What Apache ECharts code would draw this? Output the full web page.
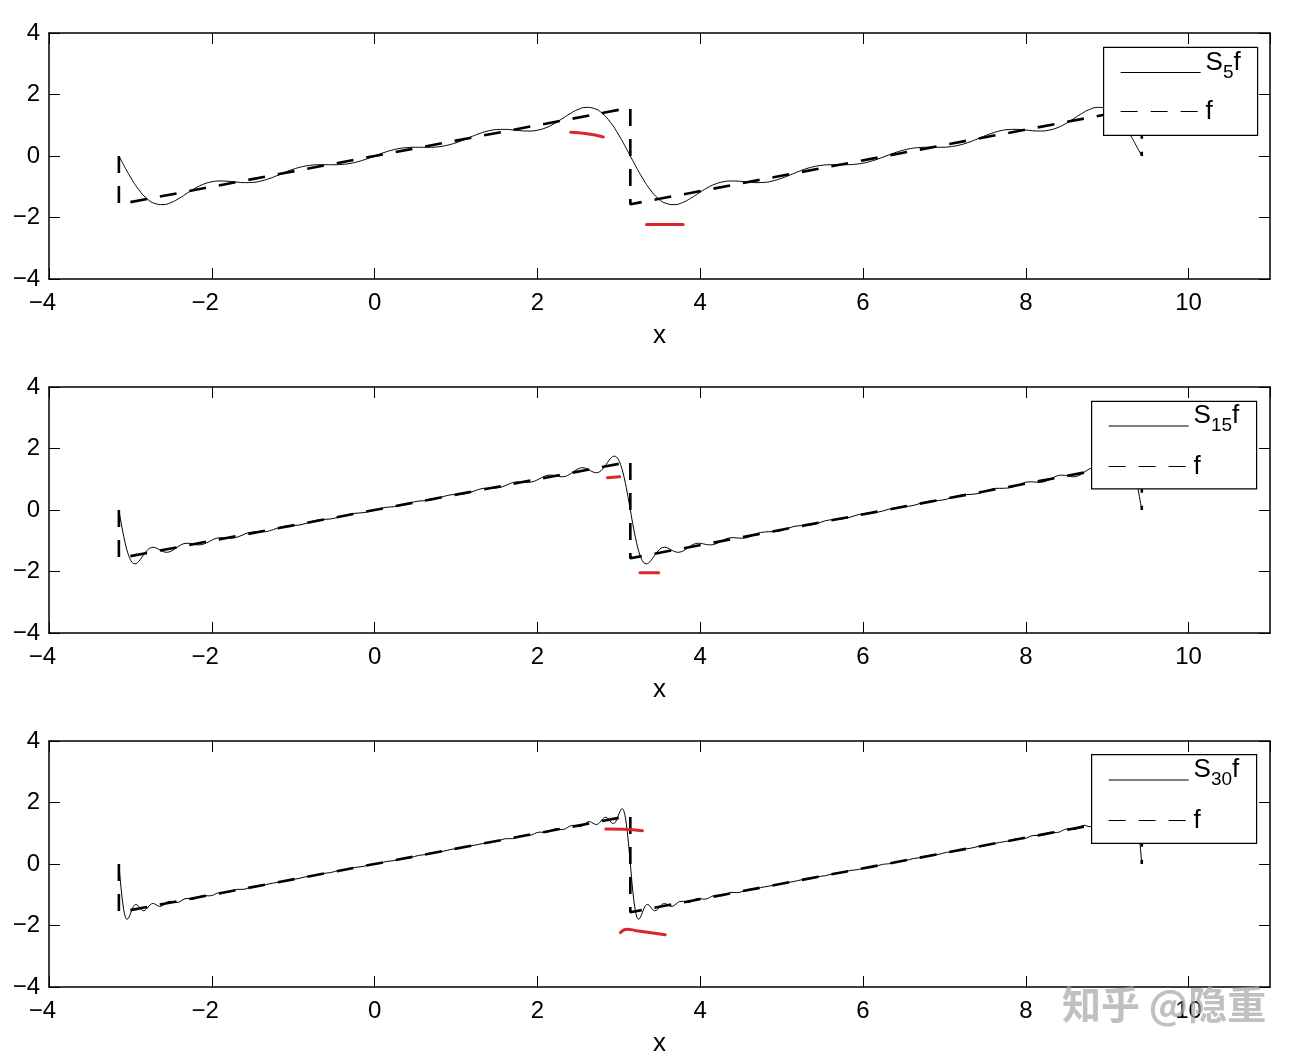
<!DOCTYPE html>
<html>
<head>
<meta charset="utf-8">
<script src="https://cdn.jsdelivr.net/npm/echarts@6/dist/echarts.min.js"></script>
<style>
html,body{margin:0;padding:0;background:#fff;}
#chart{width:1300px;height:1062px;}
</style>
</head>
<body>
<div id="chart"></div>
<script>
// ---------- data ----------
const PERIOD = 6.2832;   // the curves repeat with period 2*pi in the picture

// x positions for S5f over one period [-pi, pi]
const xS5 = [-3.1416,-3.1,-3.0,-2.9,-2.8,-2.7,-2.6,-2.5,-2.4,-2.3,-2.2,-2.1,-2.0,-1.9,-1.8,-1.7,-1.6,-1.5,-1.4,-1.3,-1.2,-1.1,-1.0,-0.9,-0.8,-0.7,-0.6,-0.5,-0.4,-0.3,-0.2,-0.1,0,
  0.1,0.2,0.3,0.4,0.5,0.6,0.7,0.8,0.9,1.0,1.1,1.2,1.3,1.4,1.5,1.6,1.7,1.8,1.9,2.0,2.1,2.2,2.3,2.4,2.5,2.6,2.7,2.8,2.9,3.0,3.1,3.1416];
const s5 = [0,-0.207,-0.682,-1.085,-1.379,-1.543,-1.581,-1.513,-1.375,-1.205,-1.042,-0.915,-0.839,-0.812,-0.822,-0.847,-0.866,-0.859,-0.817,-0.740,-0.640,-0.531,-0.431,-0.354,-0.306,-0.285,-0.283,-0.284,-0.273,-0.241,-0.181,-0.098,0,
  0.098,0.181,0.241,0.273,0.284,0.283,0.285,0.306,0.354,0.431,0.531,0.640,0.740,0.817,0.859,0.866,0.847,0.822,0.812,0.839,0.915,1.042,1.205,1.375,1.513,1.581,1.543,1.379,1.085,0.682,0.207,0];

// x positions for S15f and S30f over one period [-pi, pi] (denser near the jumps)
const xGrid = [-3.142,-3.122,-3.102,-3.082,-3.062,-3.042,-3.022,-3.002,-2.982,-2.962,
  -2.942,-2.922,-2.902,-2.882,-2.862,-2.842,-2.822,-2.802,-2.782,-2.762,
  -2.742,-2.722,-2.702,-2.682,-2.662,-2.642,-2.622,-2.602,-2.582,-2.562,
  -2.542,
  -2.492,-2.442,-2.392,-2.342,-2.292,-2.242,-2.192,-2.142,-2.092,-2.042,
  -1.992,-1.942,-1.892,-1.842,-1.792,-1.742,-1.692,-1.642,-1.592,-1.542,
  -1.442,-1.342,-1.242,-1.142,-1.042,-0.942,-0.842,-0.742,-0.642,-0.542,
  -0.442,-0.342,-0.242,-0.142,-0.042,0,
  0.042,0.142,0.242,0.342,0.442,0.542,0.642,0.742,0.842,0.942,1.042,1.142,1.242,1.342,1.442,
  1.542,1.592,1.642,1.692,1.742,1.792,1.842,1.892,1.942,1.992,2.042,2.092,2.142,2.192,2.242,2.292,2.342,2.392,2.442,2.492,
  2.542,2.562,2.582,2.602,2.622,2.642,2.662,2.682,2.702,2.722,2.742,2.762,2.782,2.802,2.822,2.842,2.862,2.882,2.902,2.922,2.942,2.962,2.982,3.002,3.022,3.042,3.062,3.082,3.102,3.122,3.142];

const s15 = [0,-0.298,-0.587,-0.856,-1.099,-1.307,-1.478,-1.606,-1.694,-1.741,
  -1.752,-1.731,-1.686,-1.622,-1.549,-1.472,-1.398,-1.332,-1.279,-1.241,
  -1.219,-1.212,-1.219,-1.238,-1.263,-1.293,-1.322,-1.347,-1.365,-1.375,
  -1.374,
  -1.329,-1.242,-1.152,-1.093,-1.081,-1.103,-1.130,-1.133,-1.100,-1.038,
  -0.969,-0.919,-0.900,-0.905,-0.917,-0.914,-0.886,-0.836,-0.779,-0.733,
  -0.706,-0.704,-0.635,-0.542,-0.507,-0.497,-0.435,-0.348,-0.307,-0.292,
  -0.234,-0.152,-0.108,-0.088,-0.034,0,
  0.034,0.088,0.108,0.152,0.234,0.292,0.307,0.348,0.435,0.497,0.507,0.542,0.635,0.704,0.706,
  0.733,0.779,0.836,0.886,0.914,0.917,0.905,0.900,0.919,0.969,1.038,1.100,1.133,1.130,1.103,1.081,1.093,1.152,1.242,1.329,
  1.374,1.375,1.365,1.347,1.322,1.293,1.263,1.238,1.219,1.212,1.219,1.241,1.279,1.332,1.398,1.472,1.549,1.622,1.686,1.731,1.752,1.741,1.694,1.606,1.478,1.307,1.099,0.856,0.587,0.298,0];

const s30 = [0,-0.588,-1.104,-1.492,-1.723,-1.801,-1.754,-1.634,-1.494,-1.380,
  -1.321,-1.322,-1.369,-1.435,-1.493,-1.521,-1.509,-1.463,-1.400,-1.339,
  -1.298,-1.284,-1.298,-1.328,-1.360,-1.378,-1.373,-1.347,-1.306,-1.261,
  -1.226,
  -1.215,-1.257,-1.225,-1.141,-1.118,-1.145,-1.123,-1.052,-1.020,-1.036,
  -1.021,-0.959,-0.922,-0.930,-0.919,-0.865,-0.824,-0.825,-0.817,-0.769,
  -0.721,-0.673,-0.618,-0.575,-0.515,-0.477,-0.413,-0.379,-0.312,-0.280,
  -0.211,-0.181,-0.111,-0.081,-0.011,0,
  0.011,0.081,0.111,0.181,0.211,0.280,0.312,0.379,0.413,0.477,0.515,0.575,0.618,0.673,0.721,
  0.769,0.817,0.825,0.824,0.865,0.919,0.930,0.922,0.959,1.021,1.036,1.020,1.052,1.123,1.145,1.118,1.141,1.225,1.257,1.215,
  1.226,1.261,1.306,1.347,1.373,1.378,1.360,1.328,1.298,1.284,1.298,1.339,1.400,1.463,1.509,1.521,1.493,1.435,1.369,1.322,1.321,1.380,1.494,1.634,1.754,1.801,1.723,1.492,1.104,0.588,0];

// the target function f (dashed), including its vertical jumps
const fX = [-3.1416,-3.1416,3.1416,3.1416,9.4248,9.4248];
const fY = [0,-1.5708,1.5708,-1.5708,1.5708,0];

// red hand-drawn marks [x, y] in data units, per panel
const redTopA = [[2.41,0.77],[2.61,0.72],[2.81,0.62]];
const redTopB = [[3.34,-2.23],[3.79,-2.23]];
const redMidA = [[2.86,1.05],[3.01,1.08]];
const redMidB = [[3.26,-2.04],[3.49,-2.04]];
const redBotA = [[2.84,1.14],[3.06,1.13],[3.29,1.08]];
const redBotB = [[3.02,-2.23],[3.10,-2.12],[3.22,-2.17],[3.57,-2.30]];

// axes and labels
const xMin = -4, xMax = 11, xStep = 2;
const yMin = -4, yMax = 4, yStep = 2;
const seriesNames = ['S5f','S15f','S30f'];
const subscripts = ['5','15','30'];
const watermark = '知乎 @隐重';

// ---------- chart ----------
const FONT = '"Liberation Sans", Arial, Helvetica, sans-serif';
const gridTops = [33, 387, 741];
// legend layout per panel: frame box and the two entries
const legendBoxes = [[1103, 46.7, 154, 88], [1091, 400.7, 165, 87.6], [1091, 754, 165, 88.7]];
const legendIconLeft = [1120, 1108, 1108];
const legendRow1Top = [49.5, 403, 757];
const legendRow2Top = [98.5, 453.5, 807.5];

function pairs(xs, ys) {
  const out = [];
  const n = Math.min(xs.length, ys.length);
  for (let i = 0; i < n; i++) out.push([xs[i], ys[i]]);
  for (let i = 1; i < n; i++) out.push([xs[i] + PERIOD, ys[i]]);
  return out;
}
function fPairs() { return fX.map((x, i) => [x, fY[i]]); }
const minus = v => String(v).replace('-', '\u2212');

const grids = [], xAxes = [], yAxes = [], series = [], legends = [], graphics = [];
const curves = [pairs(xS5, s5), pairs(xGrid, s15), pairs(xGrid, s30)];
const reds = [[redTopA, redTopB], [redMidA, redMidB], [redBotA, redBotB]];

const axisLine = {show: true, onZero: false, lineStyle: {color: '#000', width: 1.5}};
const axisTick = {show: true, inside: true, length: 11, lineStyle: {color: '#000', width: 1}};

const legendText = {
  color: '#000', fontFamily: FONT, fontSize: 26,
  rich: {
    a: {color: '#000', fontFamily: FONT, fontSize: 26, lineHeight: 46, verticalAlign: 'top'},
    b: {color: '#000', fontFamily: FONT, fontSize: 19, lineHeight: 46, verticalAlign: 'middle'},
    c: {color: '#000', fontFamily: FONT, fontSize: 26, lineHeight: 28}
  }
};

for (let g = 0; g < 3; g++) {
  grids.push({left: 49, top: gridTops[g], width: 1221, height: 246, containLabel: false, outerBoundsMode: 'none'});
  xAxes.push({
    type: 'value', gridIndex: g, position: 'bottom', min: xMin, max: xMax, interval: xStep,
    axisLine, axisTick, splitLine: {show: false},
    axisLabel: {show: true, color: '#000', fontSize: 24, fontFamily: FONT, margin: 12, showMaxLabel: false,
      formatter: v => (v < 0 ? minus(v) + '\u00a0\u00a0' : String(v))},
    name: 'x', nameLocation: 'middle', nameGap: 44,
    nameTextStyle: {color: '#000', fontSize: 26, fontFamily: FONT}
  });
  xAxes.push({
    type: 'value', gridIndex: g, position: 'top', min: xMin, max: xMax, interval: xStep,
    axisLine, axisTick, splitLine: {show: false}, axisLabel: {show: false}
  });
  yAxes.push({
    type: 'value', gridIndex: g, position: 'left', min: yMin, max: yMax, interval: yStep,
    axisLine, axisTick, splitLine: {show: false},
    axisLabel: {show: true, color: '#000', fontSize: 24, fontFamily: FONT, margin: 9, formatter: v => minus(v)}
  });
  yAxes.push({
    type: 'value', gridIndex: g, position: 'right', min: yMin, max: yMax, interval: yStep,
    axisLine, axisTick, splitLine: {show: false}, axisLabel: {show: false}
  });

  const xi = 2 * g, yi = 2 * g;
  series.push({
    name: seriesNames[g], type: 'line', xAxisIndex: xi, yAxisIndex: yi,
    data: curves[g], symbol: 'none', smooth: g === 0 ? 0.5 : 0.3,
    lineStyle: {color: '#000', width: 1}, itemStyle: {color: '#000'}, z: 2, silent: true
  });
  series.push({
    name: 'f' + (g + 1), type: 'line', xAxisIndex: xi, yAxisIndex: yi,
    data: fPairs(), symbol: 'none', smooth: false,
    lineStyle: {color: '#000', width: 2.6, type: [17, 13]}, itemStyle: {color: '#000'}, z: 3, silent: true
  });
  reds[g].forEach(r => series.push({
    type: 'line', xAxisIndex: xi, yAxisIndex: yi, data: r, symbol: 'none', smooth: true,
    lineStyle: {color: '#d8282c', width: 3, cap: 'round'}, z: 4, silent: true
  }));

  // legend frame
  const b = legendBoxes[g];
  graphics.push({
    type: 'rect', left: b[0], top: b[1], z: 50, silent: true,
    shape: {width: b[2], height: b[3]},
    style: {fill: '#fff', stroke: '#000', lineWidth: 1.2}
  });
  const common = {
    orient: 'vertical', padding: 0, itemGap: 0, itemWidth: 80, itemHeight: 14,
    selectedMode: false, z: 60, itemStyle: {opacity: 0}, lineStyle: {width: 1.2},
    textStyle: legendText, left: legendIconLeft[g]
  };
  legends.push(Object.assign({}, common, {
    data: [seriesNames[g]], top: legendRow1Top[g],
    formatter: () => '{a|S}{b|' + subscripts[g] + '}{a|f}'
  }));
  legends.push(Object.assign({}, common, {
    data: ['f' + (g + 1)], top: legendRow2Top[g],
    formatter: () => '{c|f}'
  }));
}

graphics.push({
  type: 'text', left: 1062, top: 985, z: 100, silent: true,
  style: {text: watermark, font: 'bold 39px "Noto Sans CJK SC"', fill: 'rgba(165,165,165,0.7)'}
});

const chart = echarts.init(document.getElementById('chart'), null, {renderer: 'canvas'});
chart.setOption({
  animation: false,
  backgroundColor: '#fff',
  grid: grids, xAxis: xAxes, yAxis: yAxes, series, legend: legends,
  tooltip: {show: false},
  graphic: graphics
});
</script>
</body>
</html>
